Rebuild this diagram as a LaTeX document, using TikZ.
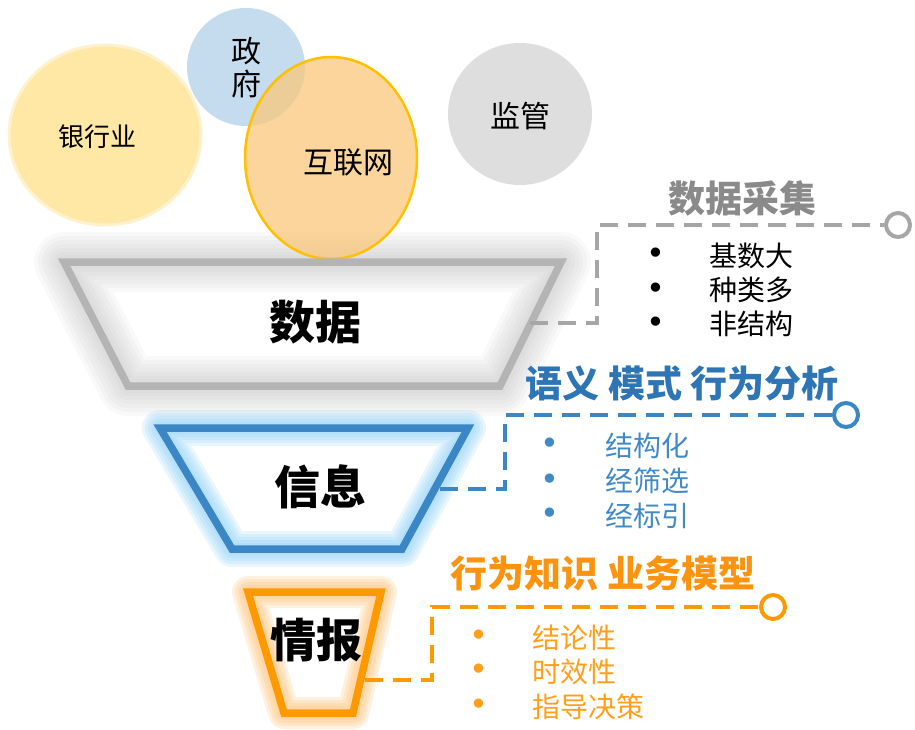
\documentclass[tikz,border=0pt]{standalone}
\usepackage{fontspec}
\newfontfamily\cjk{Noto Sans CJK SC}
\newfontfamily\dejavu{DejaVu Sans}
\definecolor{bankfill}{HTML}{FFE8A6}
\definecolor{bankedge}{HTML}{FFF1CC}
\definecolor{govfill}{HTML}{C5DCEF}
\definecolor{netfill}{HTML}{FAC77A}
\definecolor{netedge}{HTML}{FFC000}
\definecolor{regfill}{HTML}{DEDEDE}
\definecolor{graystroke}{HTML}{B4B4B4}
\definecolor{grayglow}{HTML}{B8B8B8}
\definecolor{graytitle}{HTML}{8A8A8A}
\definecolor{graydash}{HTML}{A6A6A6}
\definecolor{bluestroke}{HTML}{3B87C5}
\definecolor{blueglow}{HTML}{8FD0F7}
\definecolor{bluetitle}{HTML}{2E75B6}
\definecolor{bluetext}{HTML}{4189C7}
\definecolor{orstroke}{HTML}{FF9900}
\definecolor{orglow}{HTML}{FFBE70}
\definecolor{ortitle}{HTML}{FA9410}
\definecolor{ortext}{HTML}{FF9F1A}
\tikzset{
  txt/.style={font=\cjk\fontsize{#1}{#1}\selectfont, inner sep=0pt},
  bigtxt/.style={font=\cjk\bfseries\fontsize{46}{46}\selectfont, inner sep=0pt},
  head/.style={font=\cjk\bfseries\fontsize{37}{37}\selectfont, inner sep=0pt},
  item/.style={font=\cjk\fontsize{28}{28}\selectfont, inner sep=0pt, anchor=west},
  dot/.style={font=\dejavu\fontsize{32}{32}\selectfont, inner sep=0pt},
  ring/.style={circle, draw=#1, line width=4pt, fill=white, minimum size=24pt, inner sep=0pt},
  conn/.style={draw=#1, line width=3.5pt, dash pattern=on 18pt off 10pt},
  funnel/.style={draw=#1, line width=7.5pt, line join=miter},
}
\begin{document}
\begin{tikzpicture}[x=1pt,y=-1pt]
\useasboundingbox (0,0) rectangle (915,730);
% ---------- glows ----------
\foreach \w in {60,52,44,36,28,20,14} {
  \draw[line width=\w pt, draw=grayglow, draw opacity=0.09, line join=round]
    (64,262) -- (561,262) -- (500,386) -- (128,386) -- cycle;
}
\foreach \w in {36,30,24,18,12} {
  \draw[line width=\w pt, draw=blueglow, draw opacity=0.2, line join=round]
    (160,428) -- (468,428) -- (402,549) -- (232,549) -- cycle;
}
\foreach \w in {32,26,20,14} {
  \draw[line width=\w pt, draw=orglow, draw opacity=0.22, line join=round]
    (248,592) -- (381,592) -- (353,713) -- (284,713) -- cycle;
}
% ---------- circles ----------
\draw[fill=bankfill, draw=bankedge, line width=3pt] (105,135) ellipse [x radius=96, y radius=90];
\fill[govfill] (246,67) circle [radius=59];
\draw[fill=netfill, fill opacity=0.75, draw=netedge, line width=2.5pt] (331,158) ellipse [x radius=86, y radius=101];
\fill[regfill] (520,114) ellipse [x radius=72, y radius=71];
\node[txt=26] (bank) at (97,137) {银行业};
\node[txt=30, align=center] (gov) at (246,68) {政\\[3pt]府};
\node[txt=30] (net) at (348,162) {互联网};
\node[txt=30] (reg) at (520,116) {监管};
% ---------- funnels ----------
\draw[funnel=graystroke] (64,262) -- (561,262) -- (500,386) -- (128,386) -- cycle;
\draw[funnel=bluestroke] (160,428) -- (468,428) -- (402,549) -- (232,549) -- cycle;
\draw[funnel=orstroke] (248,592) -- (381,592) -- (353,713) -- (284,713) -- cycle;
\node[bigtxt] (data) at (315,322) {数据};
\node[bigtxt] (info) at (320,487) {信息};
\node[bigtxt] (intel) at (316,640) {情报};
% ---------- gray side ----------
\coordinate (gstart) at (530,323);
\node[ring=graydash] (gring) at (898,225) {};
\draw[conn=graydash] (gstart) -- ++(67,0) |- (gring.west);
\node[head, text=graytitle] (ghead) at (742,198) {数据采集};
\node[dot] (gd1) at (656,256) {•};
\node[dot] (gd2) at (656,291) {•};
\node[dot] (gd3) at (656,325) {•};
\node[item] (gi1) at (709,256) {基数大};
\node[item] (gi2) at (709,290) {种类多};
\node[item] (gi3) at (709,324) {非结构};
% ---------- blue side ----------
\coordinate (bstart) at (440,489);
\node[ring=bluestroke] (bring) at (846,415) {};
\draw[conn=bluestroke] (bstart) -- ++(65,0) |- (bring.west);
\node[head, text=bluetitle] (bhead) at (682,383) {语义 模式 行为分析};
\node[dot, text=bluetext] (bd1) at (550,446) {•};
\node[dot, text=bluetext] (bd2) at (550,482) {•};
\node[dot, text=bluetext] (bd3) at (550,516) {•};
\node[item, text=bluetext] (bi1) at (605,446) {结构化};
\node[item, text=bluetext] (bi2) at (605,481) {经筛选};
\node[item, text=bluetext] (bi3) at (605,516) {经标引};
% ---------- orange side ----------
\coordinate (ostart) at (365,680);
\node[ring=orstroke] (oring) at (773,607) {};
\draw[conn=orstroke] (ostart) -- ++(67,0) |- (oring.west);
\node[head, text=ortitle] (ohead) at (603,573) {行为知识 业务模型};
\node[dot, text=ortext] (od1) at (479,638) {•};
\node[dot, text=ortext] (od2) at (479,672) {•};
\node[dot, text=ortext] (od3) at (479,707) {•};
\node[item, text=ortext] (oi1) at (532,638) {结论性};
\node[item, text=ortext] (oi2) at (532,672) {时效性};
\node[item, text=ortext] (oi3) at (532,707) {指导决策};
\end{tikzpicture}
\end{document}
